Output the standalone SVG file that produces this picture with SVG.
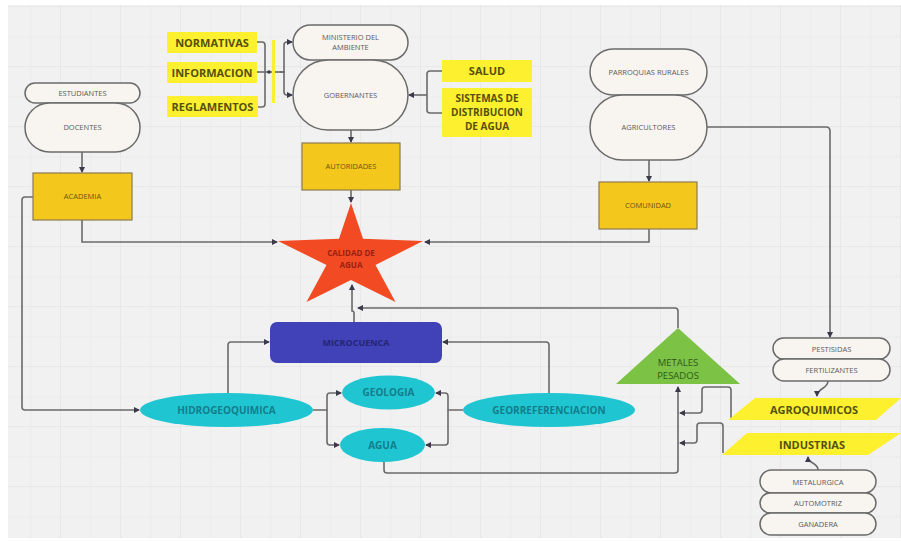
<svg xmlns="http://www.w3.org/2000/svg" width="901" height="541" viewBox="0 0 901 541">
<defs>
<pattern id="grid" x="1" y="7" width="60" height="60" patternUnits="userSpaceOnUse">
<path d="M60,0 V60 M0,60 H60" fill="none" stroke="#dedede" stroke-width="1"/>
<path d="M30,0 V60 M0,30 H60" fill="none" stroke="#e8e8e8" stroke-width="0.6"/>
</pattern>
<marker id="arr" markerWidth="6" markerHeight="6" refX="5" refY="3" orient="auto" markerUnits="userSpaceOnUse">
<path d="M0,0 L6,3 L0,6 Z" fill="#3a3a4a"/>
</marker>
</defs>
<style>
.conn{fill:none;stroke:#6a6a6a;stroke-width:1.6}
.pill{fill:#f8f4ef;stroke:#6b6b6b;stroke-width:1.5}
.gold{fill:#f4c71c;stroke:#8a7a50;stroke-width:1.2}
.lab{fill:#fdf02e}
.tsm{font-family:"Open Sans","DejaVu Sans",sans-serif;font-size:7.5px;fill:#5a5a5a;text-anchor:middle}
.tgold{font-family:"Open Sans","DejaVu Sans",sans-serif;font-size:7.5px;fill:#6b5410;text-anchor:middle}
.tlab{font-family:"Open Sans","DejaVu Sans",sans-serif;font-size:11px;font-weight:bold;fill:#55500f;text-anchor:middle}
.tlab2{font-family:"Open Sans","DejaVu Sans",sans-serif;font-size:10px;font-weight:bold;fill:#55500f;text-anchor:middle}
.tcy{font-family:"Open Sans","DejaVu Sans",sans-serif;font-size:10px;font-weight:bold;fill:#137d8a;text-anchor:middle}
.cy{fill:#1fc6d2}
</style>
<rect x="0" y="0" width="901" height="541" fill="#ffffff"/>
<rect x="8" y="5" width="893" height="533" fill="#f1f1f1"/>
<rect x="8" y="5" width="893" height="533" fill="url(#grid)"/>

<g id="connectors">
<path class="conn" d="M82,152 V172" marker-end="url(#arr)"/>
<path class="conn" d="M82,220 V242 H277" marker-end="url(#arr)"/>
<path class="conn" d="M649,229 V242 H425" marker-end="url(#arr)"/>
<path class="conn" d="M351,130 V142" marker-end="url(#arr)"/>
<path class="conn" d="M351,190 V202" marker-end="url(#arr)"/>
<path class="conn" d="M649,160 V181" marker-end="url(#arr)"/>
<path class="conn" d="M707,127 H826 Q830,127 830,131 V337" marker-end="url(#arr)"/>
<path class="conn" d="M257,42 H262 Q265,42 265,45 V104 Q265,107 262,107 H258"/>
<path class="conn" d="M257,72 H280"/>
<circle cx="269" cy="72" r="1.8" fill="#3a3a4a"/>
<path class="conn" d="M280,72 H284 V45 Q284,42 287,42 H292" marker-end="url(#arr)"/>
<path class="conn" d="M280,72 H284 V92 Q284,95 287,95 H292" marker-end="url(#arr)"/>
<path class="conn" d="M442,71 H430 Q427,71 427,74 V110 Q427,113 430,113 H442"/>
<path class="conn" d="M427,95 H409" marker-end="url(#arr)"/>
<path class="conn" d="M354,322 V313 Q354,311 352,311 V285" marker-end="url(#arr)"/>
<path class="conn" d="M678,328 V311 Q678,308 675,308 H358" marker-end="url(#arr)"/>
<path class="conn" d="M228,393 V345 Q228,342 231,342 H269" marker-end="url(#arr)"/>
<path class="conn" d="M549,393 V345 Q549,342 546,342 H443" marker-end="url(#arr)"/>
<path class="conn" d="M33,197 H25 Q22,197 22,200 V407 Q22,410 25,410 H139" marker-end="url(#arr)"/>
<path class="conn" d="M313,410 H327 V396 Q327,393 330,393 H341" marker-end="url(#arr)"/>
<path class="conn" d="M327,410 V442 Q327,445 330,445 H339" marker-end="url(#arr)"/>
<path class="conn" d="M463,410 H448 V396 Q448,393 445,393 H436" marker-end="url(#arr)"/>
<path class="conn" d="M448,410 V442 Q448,445 445,445 H426" marker-end="url(#arr)"/>
<path class="conn" d="M384,462 V470 Q384,473 387,473 H675 Q678,473 678,470 V387" marker-end="url(#arr)"/>
<path class="conn" d="M731,419 V390 Q731,387 728,387 H705 Q702,387 702,390 V410 Q702,413 699,413 H680" marker-end="url(#arr)"/>
<path class="conn" d="M723,453 V426 Q723,423 720,423 H700 Q697,423 697,426 V440 Q697,443 694,443 H680" marker-end="url(#arr)"/>
<path class="conn" d="M828,381 C828,389 817,388 817,396" marker-end="url(#arr)"/>
<path class="conn" d="M818,470 C818,462 808,464 808,457" marker-end="url(#arr)"/>
</g>

<rect x="272" y="40" width="3" height="63" fill="#fdf02e"/>

<g id="estudiantes"><rect class="pill" x="25" y="83" width="115" height="20" rx="10"/><text class="tsm" x="82.5" y="96">ESTUDIANTES</text></g>
<g id="docentes"><rect class="pill" x="25" y="103" width="115" height="49" rx="24.5"/><text class="tsm" x="82.5" y="130">DOCENTES</text></g>
<g id="academia"><rect class="gold" x="33" y="173" width="99" height="47"/><text class="tgold" x="82.5" y="199">ACADEMIA</text></g>

<g id="normativas"><rect class="lab" x="167" y="32" width="90" height="21"/><text class="tlab" x="212" y="46.5">NORMATIVAS</text></g>
<g id="informacion"><rect class="lab" x="167" y="62" width="90" height="21"/><text class="tlab" x="212" y="76.5">INFORMACION</text></g>
<g id="reglamentos"><rect class="lab" x="167" y="96" width="91" height="21"/><text class="tlab" x="212.5" y="110.5">REGLAMENTOS</text></g>

<g id="ministerio"><rect class="pill" x="293" y="25" width="115" height="35" rx="17.5"/><text class="tsm" x="350.5" y="40">MINISTERIO DEL</text><text class="tsm" x="350.5" y="50">AMBIENTE</text></g>
<g id="gobernantes"><rect class="pill" x="293" y="60" width="115" height="70" rx="35"/><text class="tsm" x="350.5" y="97.5">GOBERNANTES</text></g>
<g id="autoridades"><rect class="gold" x="302" y="143" width="98" height="47"/><text class="tgold" x="351" y="169">AUTORIDADES</text></g>

<g id="salud"><rect class="lab" x="442" y="60" width="90" height="22"/><text class="tlab" x="487" y="75">SALUD</text></g>
<g id="sistemas"><rect class="lab" x="442" y="88" width="90" height="49"/><text class="tlab2" x="487" y="102">SISTEMAS DE</text><text class="tlab2" x="487" y="116">DISTRIBUCION</text><text class="tlab2" x="487" y="130">DE AGUA</text></g>

<g id="parroquias"><rect class="pill" x="590" y="49" width="117" height="46" rx="23"/><text class="tsm" x="648.5" y="75">PARROQUIAS RURALES</text></g>
<g id="agricultores"><rect class="pill" x="590" y="95" width="117" height="65" rx="32.5"/><text class="tsm" x="648.5" y="130">AGRICULTORES</text></g>
<g id="comunidad"><rect class="gold" x="599" y="182" width="98" height="47"/><text class="tgold" x="648" y="208">COMUNIDAD</text></g>

<g id="calidad">
<polygon fill="#f24b24" points="351,203 363,238.7 423,241 375.5,265 395.5,302 351,280 306.5,302 326.5,265 278,241 339,238.7"/>
<text x="351" y="256" font-family="'Open Sans','DejaVu Sans',sans-serif" font-size="8px" font-weight="bold" fill="#9a1f12" text-anchor="middle">CALIDAD DE</text>
<text x="351" y="268" font-family="'Open Sans','DejaVu Sans',sans-serif" font-size="8px" font-weight="bold" fill="#9a1f12" text-anchor="middle">AGUA</text>
</g>

<g id="microcuenca"><rect x="270" y="322" width="172" height="41" rx="7" fill="#4141b8"/><text x="356" y="346" font-family="'Open Sans','DejaVu Sans',sans-serif" font-size="9px" font-weight="bold" fill="#262670" text-anchor="middle">MICROCUENCA</text></g>

<g id="hidrogeoquimica"><ellipse class="cy" cx="226.5" cy="410" rx="86.5" ry="17"/><text class="tcy" x="226.5" y="413.5">HIDROGEOQUIMICA</text></g>
<g id="geologia"><ellipse class="cy" cx="388.5" cy="392.5" rx="46.5" ry="17"/><text class="tcy" x="388.5" y="396">GEOLOGIA</text></g>
<g id="agua"><ellipse class="cy" cx="382.5" cy="445" rx="42.5" ry="17"/><text class="tcy" x="382.5" y="448.5">AGUA</text></g>
<g id="georreferenciacion"><ellipse class="cy" cx="549" cy="410" rx="86" ry="17"/><text class="tcy" x="549" y="413.5">GEORREFERENCIACION</text></g>

<g id="metales"><polygon points="678,328 740,384 616,384" fill="#7cc244"/><text x="678" y="366" font-family="'Open Sans','DejaVu Sans',sans-serif" font-size="9.5px" fill="#2f5a18" text-anchor="middle">METALES</text><text x="678" y="379" font-family="'Open Sans','DejaVu Sans',sans-serif" font-size="9.5px" fill="#2f5a18" text-anchor="middle">PESADOS</text></g>

<g id="pestisidas"><rect class="pill" x="773" y="338" width="117" height="21" rx="10.5"/><text class="tsm" x="831.5" y="351.5">PESTISIDAS</text></g>
<g id="fertilizantes"><rect class="pill" x="773" y="359" width="117" height="22" rx="11"/><text class="tsm" x="831.5" y="372.5">FERTILIZANTES</text></g>

<g id="agroquimicos"><polygon class="lab" points="755,398 901,398 876,420 728,420"/><text class="tlab" x="814" y="413.5">AGROQUIMICOS</text></g>
<g id="industrias"><polygon class="lab" points="747,433 901,433 868,455 722,455"/><text class="tlab" x="812" y="448.5">INDUSTRIAS</text></g>

<g id="metalurgica"><rect class="pill" x="760" y="470" width="116" height="23" rx="11.5"/><text class="tsm" x="818" y="484.5">METALURGICA</text></g>
<g id="automotriz"><rect class="pill" x="760" y="493" width="116" height="20" rx="10"/><text class="tsm" x="818" y="505.5">AUTOMOTRIZ</text></g>
<g id="ganadera"><rect class="pill" x="760" y="513" width="116" height="22" rx="11"/><text class="tsm" x="818" y="526.5">GANADERA</text></g>
</svg>
